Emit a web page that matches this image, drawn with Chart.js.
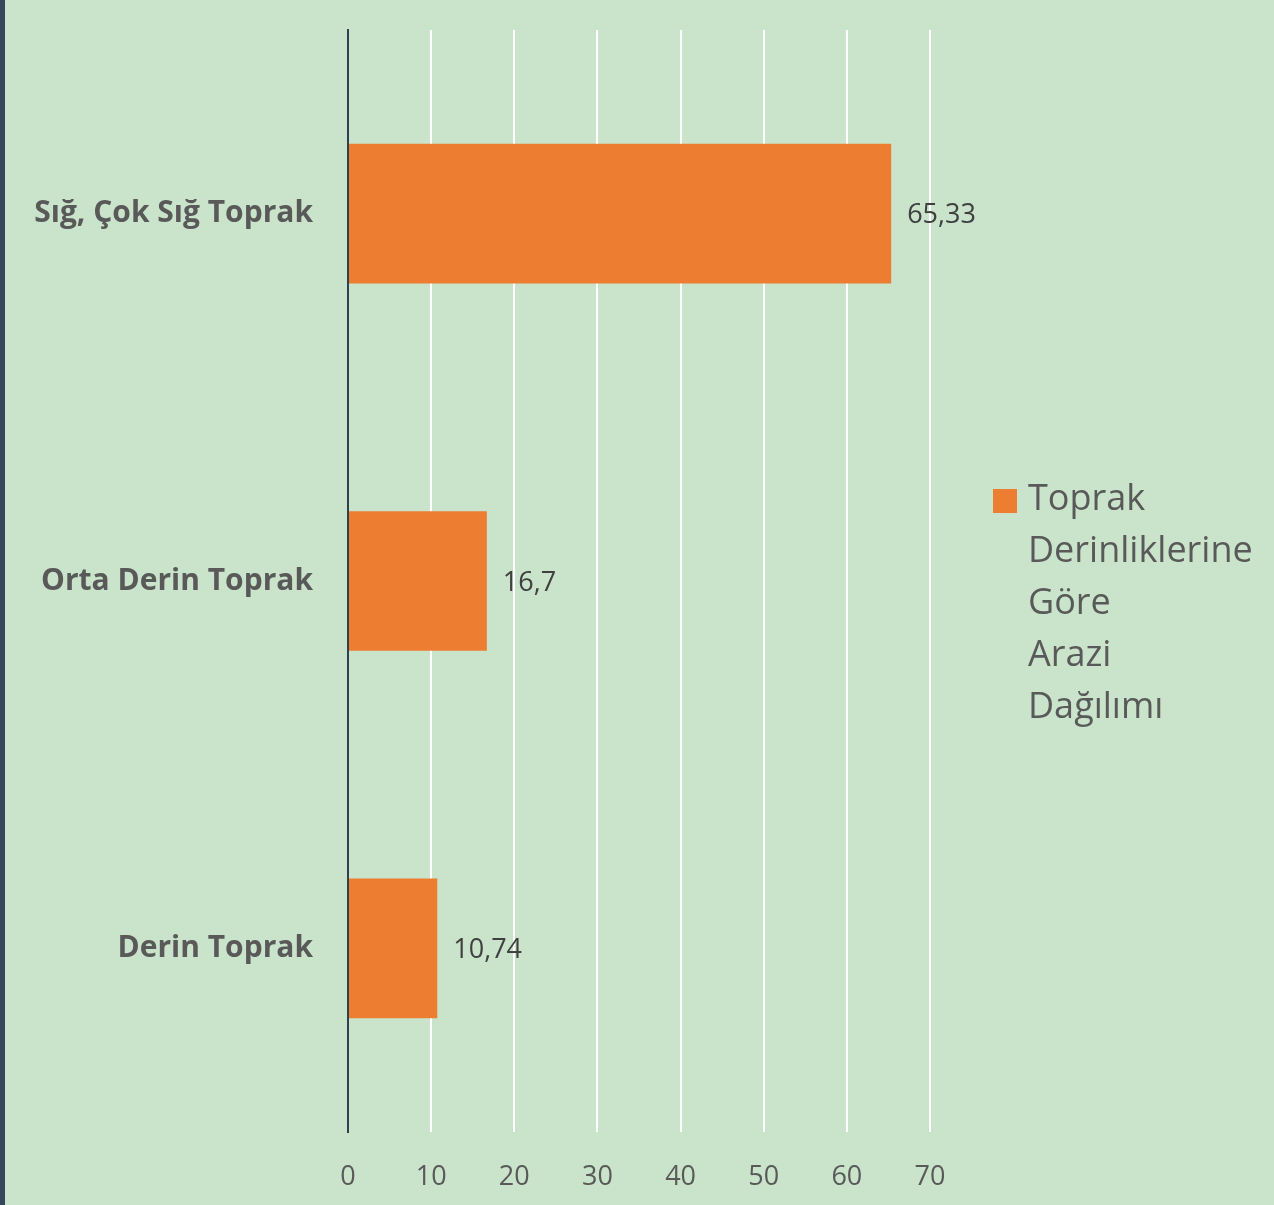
<!DOCTYPE html>
<html lang="tr">
<head>
  <meta charset="UTF-8" />
  <title>Toprak Derinliklerine Göre Arazi Dağılımı</title>
  <script src="https://cdn.jsdelivr.net/npm/chart.js"></script>
  <style>
    html, body {
      margin: 0;
      padding: 0;
      background-color: #c9e4cb;
    }

    .wrap {
      width: 1269px;
      height: 1205px;
      border-left: 5px solid #33475a;
      background-color: #c9e4cb;
    }
  </style>
</head>
<body>
  <div class="wrap">
    <canvas id="derinlikChart" width="1269" height="1205"></canvas>
  </div>

  <script>
    const kategoriler = ["Sığ, Çok Sığ Toprak", "Orta Derin Toprak", "Derin Toprak"];
    const degerler = [65.33, 16.7, 10.74];
    const seriAdi = "Toprak Derinliklerine Göre Arazi Dağılımı";
    const xTikler = [0, 10, 20, 30, 40, 50, 60, 70];

    const FONT = "'Open Sans', 'Noto Sans', sans-serif";
    const TURUNCU = "#ed7d31";

    function virgullu(v) {
      return String(v).replace(".", ",");
    }

    // bar sonlarına değer etiketleri
    const degerEtiketi = {
      id: "degerEtiketi",
      afterDatasetsDraw(chart) {
        const ctx = chart.ctx;
        const meta = chart.getDatasetMeta(0);
        ctx.save();
        ctx.font = "27px " + FONT;
        ctx.fillStyle = "#404040";
        ctx.textAlign = "left";
        ctx.textBaseline = "middle";
        meta.data.forEach((bar, i) => {
          ctx.fillText(virgullu(chart.data.datasets[0].data[i]), bar.x + 16, bar.y + 2);
        });
        ctx.restore();
      }
    };

    // sağdaki çok satırlı lejant (her kelime ayrı satırda)
    const lejant = {
      id: "lejant",
      afterDraw(chart) {
        const ctx = chart.ctx;
        const ds = chart.data.datasets[0];
        const left = chart.chartArea.right + 63;
        const textX = left + 35;
        const lines = ds.label.split(" ");
        const lineH = 52;
        const mid = (chart.chartArea.top + chart.chartArea.bottom) / 2;
        const top = mid - (lines.length - 1) * lineH / 2 + 23;

        ctx.save();
        ctx.font = "36px " + FONT;
        ctx.fillStyle = ds.backgroundColor;
        ctx.fillRect(left, top - 11, 24, 24);
        ctx.fillStyle = "#595959";
        ctx.textAlign = "left";
        ctx.textBaseline = "middle";
        lines.forEach((l, i) => ctx.fillText(l, textX, top + i * lineH));
        ctx.restore();
      }
    };

    new Chart(document.getElementById("derinlikChart"), {
      type: "bar",
      data: {
        labels: kategoriler,
        datasets: [{
          label: seriAdi,
          data: degerler,
          backgroundColor: TURUNCU,
          categoryPercentage: 1,
          barPercentage: 0.38
        }]
      },
      options: {
        indexAxis: "y",
        responsive: false,
        animation: false,
        layout: {
          padding: { top: 30, right: 344, left: 0, bottom: 0 }
        },
        plugins: {
          legend: { display: false },
          tooltip: { enabled: false }
        },
        scales: {
          x: {
            min: 0,
            max: 70,
            afterBuildTicks: scale => {
              scale.ticks = xTikler.map(v => ({ value: v }));
            },
            afterFit: scale => { scale.height = 73; },
            grid: { color: "#ffffff", lineWidth: 2, drawTicks: false },
            border: { display: false },
            ticks: {
              padding: 29,
              color: "#595959",
              font: { family: FONT, size: 27 }
            }
          },
          y: {
            afterFit: scale => {
              scale.width = 343;
              scale.paddingTop = 0;
              scale.paddingBottom = 0;
            },
            grid: { display: false },
            border: { display: true, color: "#2f4050", width: 2 },
            ticks: {
              padding: 27,
              color: "#595959",
              font: { family: FONT, size: 30, weight: "bold" }
            }
          }
        }
      },
      plugins: [degerEtiketi, lejant]
    });
  </script>
</body>
</html>
